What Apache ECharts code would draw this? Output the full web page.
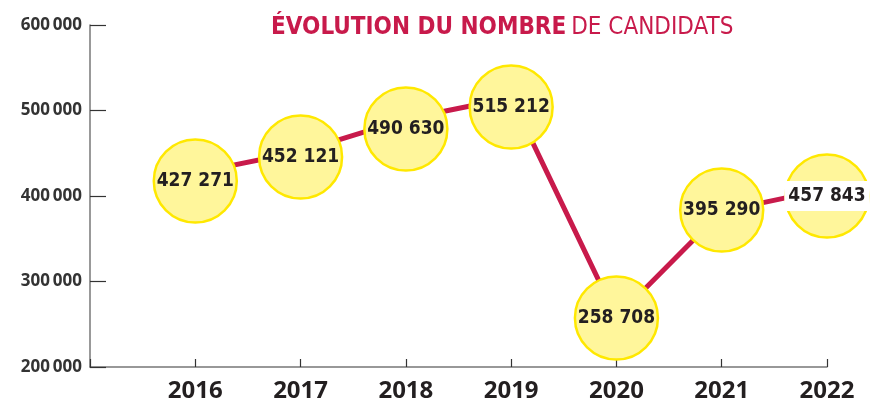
<!DOCTYPE html>
<html>
<head>
<meta charset="utf-8">
<script src="https://cdn.jsdelivr.net/npm/echarts@6/dist/echarts.min.js"></script>
<style>
  html, body { margin: 0; padding: 0; background: #fff; }
  #chart { width: 875px; height: 406px; }
</style>
</head>
<body>
<div id="chart"></div>
<script>
var years = [2016, 2017, 2018, 2019, 2020, 2021, 2022]
// valeurs de la courbe
var lineValues = [427000, 452000, 490000, 515000, 258000, 382000, 408000]
// position des bulles (légèrement décalées comme sur l'original)
var bubbleValues = [417500, 445600, 478400, 504100, 257300, 383600, 400000]
// textes affichés dans les bulles
var bubbleLabels = ['427 271', '452 121', '490 630', '515 212', '258 708', '395 290', '457 843']
var yTicks = [200000, 300000, 400000, 500000, 600000]

var red = '#c81a4b'
var narrow = '"DejaVu Sans Condensed", "Liberation Sans Narrow", Roboto, sans-serif'
var chart = echarts.init(document.getElementById('chart'))

var lineData = years.map(function (y, i) { return [y, lineValues[i]] })
var bubbleData = years.map(function (y, i) {
  var item = { value: [y, bubbleValues[i]], name: bubbleLabels[i] }
  if (i === years.length - 1) {
    item.label = { backgroundColor: '#fff', padding: [6, 4, 5, 4] }
  }
  return item
})

var option = {
  animation: false,
  title: {
    text: '{b|ÉVOLUTION DU NOMBRE} {l|DE CANDIDATS}',
    left: 266,
    top: 11,
    textStyle: {
      rich: {
        b: { fontFamily: narrow, fontWeight: 'bold', fontSize: 24, color: red },
        l: { fontFamily: narrow, fontWeight: 'normal', fontSize: 24, color: red }
      }
    }
  },
  grid: { left: 90, right: 48, top: 25, bottom: 39 },
  xAxis: {
    type: 'value',
    min: 2015,
    max: 2022,
    interval: 1,
    axisLine: { lineStyle: { color: '#777', width: 1.5 } },
    axisTick: { inside: true, length: 8, lineStyle: { color: '#333', width: 1.2 } },
    splitLine: { show: false },
    axisLabel: {
      margin: 12,
      fontFamily: 'Open Sans',
      fontWeight: 'bold',
      fontSize: 24,
      color: '#231f20',
      formatter: function (v) { return v === 2015 ? '' : String(v) }
    }
  },
  yAxis: {
    type: 'value',
    min: yTicks[0],
    max: yTicks[yTicks.length - 1],
    interval: 100000,
    axisLine: { show: true, lineStyle: { color: '#777', width: 1.5 } },
    axisTick: { show: true, inside: true, length: 16, lineStyle: { color: '#333', width: 1.2 } },
    splitLine: { show: false },
    axisLabel: {
      margin: 8,
      fontFamily: 'Open Sans',
      fontWeight: 'bold',
      fontSize: 17,
      color: '#333',
      formatter: function (v) {
        var s = String(v)
        return s.slice(0, s.length - 3) + '\u2009' + s.slice(-3)
      }
    }
  },
  series: [
    {
      name: 'courbe',
      type: 'line',
      data: lineData,
      symbol: 'none',
      lineStyle: { color: red, width: 5 },
      z: 2
    },
    {
      name: 'bulles',
      type: 'scatter',
      data: bubbleData,
      symbol: 'circle',
      symbolSize: 83,
      clip: false,
      itemStyle: { color: '#fff69b', borderColor: '#ffe800', borderWidth: 2.5, opacity: 1 },
      label: {
        show: true,
        position: 'inside',
        formatter: '{b}',
        fontFamily: narrow,
        fontWeight: 'bold',
        fontSize: 19,
        color: '#231f20'
      },
      emphasis: { disabled: true },
      z: 3
    }
  ]
}
chart.setOption(option)
</script>
</body>
</html>
